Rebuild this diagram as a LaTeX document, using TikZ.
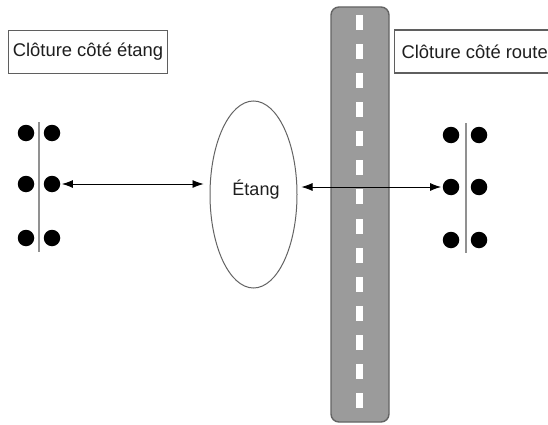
\documentclass[tikz,border=0pt]{standalone}
\usepackage{fontspec}
\setmainfont{Liberation Sans}
\usetikzlibrary{shapes.geometric,arrows.meta}
\definecolor{roadgray}{RGB}{155,155,155}
\definecolor{roadedge}{RGB}{100,100,100}
\definecolor{boxedge}{RGB}{95,95,95}
\definecolor{fencegray}{RGB}{145,145,145}
\definecolor{txt}{RGB}{30,30,30}
\tikzset{
  labelbox/.style={draw=boxedge, line width=1.1pt, minimum height=43pt, inner xsep=4pt, text=txt, font=\fontsize{18.4}{22}\selectfont},
  post/.style={circle, fill=black, inner sep=0pt, minimum size=16.5pt},
  fence/.style={draw=fencegray, line width=1.8pt},
  link/.style={draw=black, line width=0.8pt, {Latex[length=11pt,width=8pt]}-{Latex[length=11pt,width=8pt]}},
  pond/.style={ellipse, draw=roadedge, line width=1pt, minimum width=87pt, minimum height=187pt, inner sep=0pt},
  roadbody/.style={fill=roadgray, draw=roadedge, line width=1.4pt, rounded corners=8pt},
  roadmark/.style={fill=white},
}
\begin{document}
\begin{tikzpicture}[x=1pt,y=-1pt]
\useasboundingbox (0,0) rectangle (548,425);
\clip (0,0) rectangle (548,425);
\fill[white] (0,0) rectangle (548,425);
% road
\path[roadbody] (331,7) rectangle (389,422);
\foreach \k in {0,...,13} {
  \fill[roadmark] (356,{15+\k*29.08}) rectangle (363,{30+\k*29.08});
}
% labels
\node[labelbox, minimum width=158pt] (lbox) at (88,52) {Clôture côté étang};
\node[labelbox, anchor=west, inner xsep=7pt] (rbox) at (394,51.5) {Clôture côté route};
% left fence
\coordinate (lf1) at (39,122);
\coordinate (lf2) at (39,252);
\draw[fence] (lf1) -- (lf2);
\node[post] (la1) at (26,133) {};
\node[post] (lb1) at (52,133) {};
\node[post] (la2) at (26,184) {};
\node[post] (lb2) at (52,184) {};
\node[post] (la3) at (26,238) {};
\node[post] (lb3) at (52,238) {};
% right fence
\coordinate (rf1) at (466,123);
\coordinate (rf2) at (466,253);
\draw[fence] (rf1) -- (rf2);
\node[post] (ra1) at (451,135) {};
\node[post] (rb1) at (479,135) {};
\node[post] (ra2) at (451,187) {};
\node[post] (rb2) at (479,187) {};
\node[post] (ra3) at (451,240) {};
\node[post] (rb3) at (479,240) {};
% pond
\node[pond] (e) at (253.5,194.5) {};
\node[text=txt, font=\fontsize{18}{22}\selectfont] (et) at (256,190) {Étang};
% links
\draw[link, shorten <=1.5pt, shorten >=6pt] (lb2.east) -- (lb2.east -| e.west);
\draw[link, shorten <=4pt, shorten >=1.5pt] (e.east |- ra2.west) -- (ra2.west);
\end{tikzpicture}
\end{document}
